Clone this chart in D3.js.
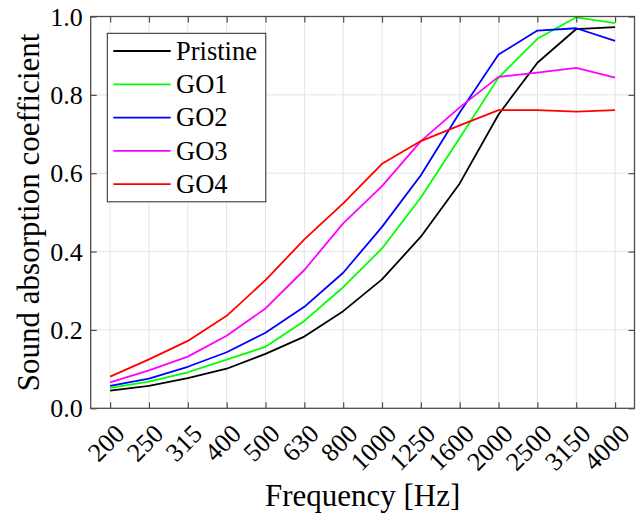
<!DOCTYPE html>
<html>
<head>
<meta charset="utf-8">
<script src="https://cdn.jsdelivr.net/npm/d3@7"></script>
<style>
  body { margin: 0; background: #fff; }
  text { font-family: "Liberation Serif", "Times New Roman", serif; fill: #000; }
</style>
</head>
<body>
<svg width="640" height="515"></svg>
<script>
// Frequency bands (categories on the x axis)
const frequencies = ["200", "250", "315", "400", "500", "630", "800", "1000", "1250", "1600", "2000", "2500", "3150", "4000"];

// Sound absorption coefficient per sample
const pristine = [0.045, 0.057, 0.077, 0.101, 0.139, 0.183, 0.248, 0.329, 0.438, 0.574, 0.750, 0.882, 0.968, 0.973];
const go1      = [0.052, 0.068, 0.092, 0.124, 0.157, 0.223, 0.309, 0.408, 0.538, 0.690, 0.844, 0.943, 0.998, 0.983];
const go2      = [0.057, 0.076, 0.106, 0.143, 0.193, 0.259, 0.346, 0.463, 0.595, 0.755, 0.903, 0.964, 0.970, 0.938];
const go3      = [0.066, 0.097, 0.132, 0.185, 0.255, 0.353, 0.472, 0.567, 0.682, 0.768, 0.846, 0.857, 0.869, 0.844];
const go4      = [0.081, 0.125, 0.172, 0.236, 0.327, 0.431, 0.523, 0.624, 0.682, 0.722, 0.761, 0.761, 0.757, 0.761];

const seriesNames = ["Pristine", "GO1", "GO2", "GO3", "GO4"];
const seriesValues = [pristine, go1, go2, go3, go4];
const seriesColors = ["#000000", "#00ff00", "#0000ff", "#ff00ff", "#ff0000"];

const yTicks = [0, 0.2, 0.4, 0.6, 0.8, 1.0];

const svg = d3.select("svg");

// Plot box
const plotLeft = 90.7, plotRight = 634.5, plotTop = 16.5, plotBottom = 408.3;
const tickLen = 6;

const x = d3.scalePoint()
    .domain(frequencies)
    .range([plotLeft, plotRight])
    .padding(0.5);

const y = d3.scaleLinear()
    .domain([0, 1])
    .range([plotBottom, plotTop]);

// Grid lines
const grid = svg.append("g").attr("stroke", "#e3e3e3").attr("stroke-width", 1);
grid.selectAll(".vgrid")
    .data(frequencies)
    .enter().append("line")
    .attr("x1", d => x(d)).attr("x2", d => x(d))
    .attr("y1", plotTop).attr("y2", plotBottom);
grid.selectAll(".hgrid")
    .data(yTicks.slice(1, -1))
    .enter().append("line")
    .attr("x1", plotLeft).attr("x2", plotRight)
    .attr("y1", d => y(d)).attr("y2", d => y(d));

// Data lines
const line = d3.line()
    .x((d, i) => x(frequencies[i]))
    .y(d => y(d));

svg.append("g").selectAll("path")
    .data(seriesValues)
    .enter().append("path")
    .attr("fill", "none")
    .attr("stroke", (d, i) => seriesColors[i])
    .attr("stroke-width", 1.8)
    .attr("stroke-linejoin", "round")
    .attr("d", line);

// Axes (box with inward ticks on all four sides)
const axisColor = "#4d4d4d";
const axisBottom = d3.axisBottom(x).tickSize(-tickLen).tickFormat("");
const axisTop = d3.axisTop(x).tickSize(-tickLen).tickFormat("");
const axisLeft = d3.axisLeft(y).tickValues(yTicks).tickSize(-tickLen).tickFormat("");
const axisRight = d3.axisRight(y).tickValues(yTicks).tickSize(-tickLen).tickFormat("");

const axes = [
    svg.append("g").attr("transform", `translate(0,${plotBottom})`).call(axisBottom),
    svg.append("g").attr("transform", `translate(0,${plotTop})`).call(axisTop),
    svg.append("g").attr("transform", `translate(${plotLeft},0)`).call(axisLeft),
    svg.append("g").attr("transform", `translate(${plotRight},0)`).call(axisRight)
];
axes.forEach(g => {
    g.select(".domain").remove();
    g.selectAll("line").attr("stroke", axisColor).attr("stroke-width", 1.2);
});

svg.append("rect")
    .attr("x", plotLeft).attr("y", plotTop)
    .attr("width", plotRight - plotLeft).attr("height", plotBottom - plotTop)
    .attr("fill", "none")
    .attr("stroke", axisColor)
    .attr("stroke-width", 1.3);

// Y tick labels
svg.append("g").selectAll("text")
    .data(yTicks)
    .enter().append("text")
    .attr("x", plotLeft - 8)
    .attr("y", d => y(d))
    .attr("dy", "0.35em")
    .attr("text-anchor", "end")
    .attr("font-size", 26)
    .text(d => d3.format(".1f")(d));

// X tick labels, rotated
svg.append("g").selectAll("text")
    .data(frequencies)
    .enter().append("text")
    .attr("transform", d => `translate(${x(d) + 16},${plotBottom + 27}) rotate(-45)`)
    .attr("text-anchor", "end")
    .attr("font-size", 26)
    .text(d => d);

// Axis titles
svg.append("text")
    .attr("x", (plotLeft + plotRight) / 2)
    .attr("y", 506)
    .attr("text-anchor", "middle")
    .attr("font-size", 31)
    .text("Frequency [Hz]");

svg.append("text")
    .attr("transform", `translate(39,${(plotTop + plotBottom) / 2}) rotate(-90)`)
    .attr("text-anchor", "middle")
    .attr("font-size", 31)
    .text("Sound absorption coefficient");

// Legend
const legendX = 107.3, legendY = 33.3, legendW = 158.5, legendH = 168.5;
const legendRow = 33.3;
const legend = svg.append("g");
legend.append("rect")
    .attr("x", legendX).attr("y", legendY)
    .attr("width", legendW).attr("height", legendH)
    .attr("fill", "#fff")
    .attr("stroke", "#262626")
    .attr("stroke-width", 1);

const items = legend.selectAll(".item")
    .data(seriesNames)
    .enter().append("g")
    .attr("transform", (d, i) => `translate(0,${legendY + 17.7 + i * legendRow})`);
items.append("line")
    .attr("x1", 113.3).attr("x2", 170.7)
    .attr("stroke", (d, i) => seriesColors[i])
    .attr("stroke-width", 1.8);
items.append("text")
    .attr("x", 176)
    .attr("dy", "0.33em")
    .attr("font-size", 26.5)
    .text(d => d);
</script>
</body>
</html>
